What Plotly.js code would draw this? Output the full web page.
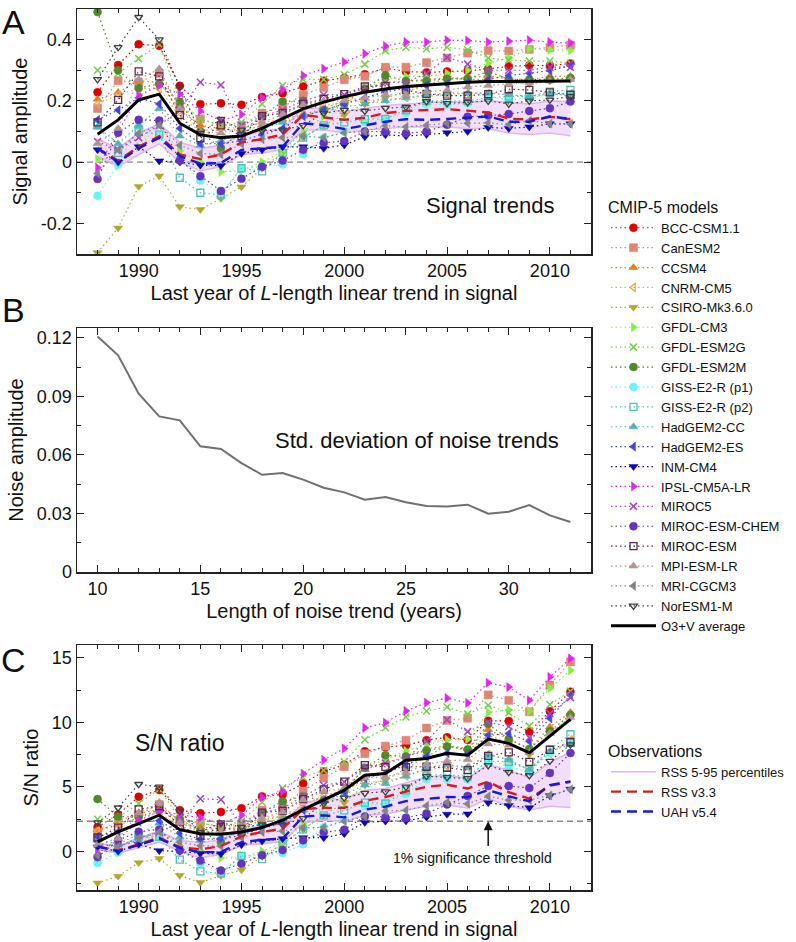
<!DOCTYPE html>
<html><head><meta charset="utf-8">
<script src="https://cdn.plot.ly/plotly-3.0.1.min.js"></script>
<style>html,body{margin:0;padding:0;background:#fff;}#chart{width:796px;height:942px;}</style>
</head><body><div id="chart"></div>
<script>
// ---------- data ----------
const years = [1988,1989,1990,1991,1992,1993,1994,1995,1996,1997,1998,1999,2000,2001,2002,2003,2004,2005,2006,2007,2008,2009,2010,2011];
const noiseLength = [10,11,12,13,14,15,16,17,18,19,20,21,22,23,24,25,26,27,28,29,30,31,32,33];
const noiseStd = [0.1207,0.111,0.0913,0.0797,0.0777,0.0644,0.063,0.0558,0.0498,0.0507,0.0473,0.0432,0.0408,0.037,0.0384,0.0357,0.0338,0.0335,0.0345,0.0299,0.0309,0.0343,0.029,0.0256];

const modelNames = ['BCC-CSM1.1','CanESM2','CCSM4','CNRM-CM5','CSIRO-Mk3.6.0','GFDL-CM3','GFDL-ESM2G','GFDL-ESM2M','GISS-E2-R (p1)','GISS-E2-R (p2)','HadGEM2-CC','HadGEM2-ES','INM-CM4','IPSL-CM5A-LR','MIROC5','MIROC-ESM-CHEM','MIROC-ESM','MPI-ESM-LR','MRI-CGCM3','NorESM1-M'];

// Panel A: signal trends
const sigBCC   = [0.228,0.317,0.385,0.38,0.249,0.189,0.192,0.187,0.213,0.225,0.247,0.266,0.275,0.287,0.307,0.296,0.293,0.296,0.298,0.304,0.313,0.316,0.315,0.322];
const sigCan   = [0.175,0.266,0.26,0.29,0.18,0.141,0.12,0.12,0.16,0.18,0.22,0.244,0.269,0.28,0.31,0.31,0.325,0.34,0.356,0.364,0.363,0.368,0.374,0.382];
const sigCCSM  = [0.205,0.228,0.266,0.26,0.17,0.12,0.11,0.10,0.12,0.14,0.155,0.175,0.20,0.235,0.26,0.265,0.27,0.275,0.275,0.283,0.27,0.27,0.28,0.28];
const sigCNRM  = [0.19,0.22,0.24,0.24,0.15,0.10,0.115,0.11,0.13,0.14,0.17,0.185,0.195,0.20,0.205,0.21,0.215,0.22,0.225,0.225,0.22,0.215,0.22,0.225];
const sigCSIRO = [-0.296,-0.215,-0.08,-0.045,-0.146,-0.155,-0.119,-0.081,-0.02,0.03,0.08,0.12,0.155,0.19,0.21,0.23,0.25,0.275,0.27,0.27,0.26,0.255,0.265,0.27];
const sigCM3   = [0.01,-0.01,0.05,0.12,0.036,0.0,-0.032,-0.028,0.0,0.035,0.10,0.15,0.20,0.24,0.27,0.28,0.28,0.29,0.30,0.323,0.34,0.37,0.367,0.365];
const sigESM2G = [0.30,0.29,0.338,0.385,0.20,0.14,0.12,0.13,0.19,0.25,0.27,0.27,0.285,0.32,0.364,0.375,0.37,0.375,0.367,0.34,0.333,0.33,0.33,0.323];
const sigESM2M = [0.49,0.30,0.242,0.255,0.196,0.10,0.045,0.10,0.15,0.198,0.20,0.17,0.19,0.24,0.283,0.265,0.266,0.272,0.272,0.296,0.27,0.27,0.27,0.275];
const sigGISS1 = [-0.11,-0.008,0.116,0.085,0.01,-0.06,-0.10,-0.02,-0.015,-0.007,0.026,0.08,0.10,0.13,0.14,0.16,0.19,0.187,0.192,0.214,0.203,0.209,0.222,0.22];
const sigGISS2 = [0.12,0.03,0.10,0.09,-0.051,-0.10,-0.108,-0.02,-0.03,0.03,0.08,0.12,0.13,0.14,0.141,0.17,0.20,0.20,0.20,0.21,0.215,0.215,0.23,0.236];
const sigHadCC = [0.115,0.06,0.12,0.175,0.085,0.055,0.07,0.09,0.11,0.13,0.15,0.17,0.18,0.19,0.20,0.21,0.22,0.225,0.225,0.225,0.22,0.215,0.225,0.215];
const sigHadES = [0.138,0.17,0.21,0.19,0.11,0.06,0.06,0.07,0.09,0.11,0.15,0.17,0.19,0.21,0.23,0.24,0.25,0.255,0.26,0.27,0.283,0.29,0.299,0.315];
const sigINM   = [0.04,0.0,0.05,0.004,0.0,-0.01,-0.012,0.028,0.04,0.05,0.05,0.045,0.056,0.083,0.089,0.085,0.09,0.096,0.10,0.113,0.11,0.115,0.125,0.125];
const sigIPSL  = [-0.018,0.10,0.217,0.25,0.222,0.167,0.135,0.156,0.21,0.236,0.283,0.305,0.327,0.354,0.379,0.392,0.392,0.398,0.397,0.392,0.395,0.398,0.392,0.389];
const sigMIROC5= [0.067,0.04,0.08,0.12,0.17,0.261,0.252,0.12,0.15,0.17,0.20,0.22,0.22,0.24,0.26,0.26,0.29,0.342,0.32,0.30,0.30,0.30,0.31,0.31];
const sigMChem = [-0.055,0.096,0.138,0.136,0.005,-0.046,-0.094,-0.054,-0.015,0.005,0.04,0.063,0.069,0.10,0.10,0.094,0.10,0.122,0.148,0.152,0.157,0.167,0.176,0.198];
const sigMESM  = [0.13,0.203,0.296,0.28,0.154,0.078,0.12,0.085,0.15,0.16,0.19,0.207,0.222,0.247,0.249,0.235,0.223,0.217,0.217,0.222,0.238,0.236,0.228,0.22];
const sigMPI   = [0.06,0.11,0.27,0.305,0.175,0.10,0.095,0.11,0.13,0.155,0.187,0.20,0.20,0.21,0.22,0.22,0.23,0.235,0.245,0.25,0.255,0.26,0.265,0.27];
const sigMRI   = [-0.037,0.04,0.094,0.121,0.055,0.028,0.025,0.06,0.075,0.08,0.085,0.08,0.096,0.10,0.119,0.115,0.12,0.127,0.127,0.128,0.123,0.135,0.126,0.125];
const sigNor   = [0.27,0.375,0.473,0.40,0.245,0.095,0.14,0.105,0.103,0.105,0.12,0.16,0.17,0.167,0.176,0.18,0.198,0.192,0.195,0.20,0.19,0.20,0.203,0.215];
const sigAvg   = [0.091,0.138,0.203,0.222,0.127,0.089,0.080,0.085,0.110,0.143,0.174,0.196,0.214,0.228,0.239,0.247,0.252,0.258,0.261,0.263,0.263,0.263,0.264,0.265];
const sigRSS   = [0.045,0.005,0.05,0.085,0.025,0.01,0.025,0.065,0.075,0.09,0.154,0.145,0.138,0.145,0.16,0.167,0.17,0.173,0.168,0.162,0.142,0.139,0.148,0.14];
const sigUAH   = [0.045,0.0,0.045,0.08,0.02,-0.005,-0.003,0.04,0.045,0.05,0.127,0.12,0.108,0.12,0.132,0.14,0.138,0.141,0.145,0.149,0.132,0.132,0.149,0.141];
const sigRSSlo = [0.02,-0.015,0.025,0.06,0.0,-0.028,-0.015,0.025,0.03,0.04,0.105,0.105,0.095,0.105,0.11,0.115,0.115,0.115,0.11,0.11,0.095,0.09,0.095,0.086];
const sigRSShi = [0.075,0.045,0.095,0.125,0.065,0.045,0.055,0.09,0.10,0.11,0.175,0.175,0.165,0.175,0.185,0.19,0.195,0.198,0.195,0.20,0.195,0.19,0.20,0.198];

// Panel C: S/N ratio
const snrBCC   = [1.88,2.86,4.23,4.75,3.19,2.95,3.05,3.34,4.26,4.41,5.26,6.19,6.71,7.76,8.08,8.22,8.62,8.84,8.64,10.13,10.10,9.29,10.86,12.38];
const snrCan   = [1.45,2.40,2.86,3.63,2.31,2.20,1.90,2.14,3.2,3.53,4.68,5.68,6.56,7.57,8.16,8.61,9.56,10.15,10.32,12.13,11.71,10.82,12.9,14.69];
const snrCCSM  = [1.69,2.05,2.92,3.25,2.18,1.88,1.75,1.79,2.4,2.75,3.3,4.07,4.88,6.35,6.84,7.36,7.94,8.21,7.97,9.43,8.71,7.94,9.65,10.77];
const snrCNRM  = [1.57,1.98,2.64,3.0,1.92,1.56,1.83,1.96,2.6,2.75,3.62,4.3,4.76,5.41,5.4,5.83,6.32,6.57,6.52,7.5,7.1,6.32,7.59,8.65];
const snrCSIRO = [-2.45,-1.94,-0.88,-0.56,-1.87,-2.42,-1.89,-1.45,-0.4,0.59,1.7,2.79,3.78,5.14,5.53,6.39,7.35,8.21,7.83,9.0,8.39,7.5,9.14,10.38];
const snrCM3   = [0.08,-0.09,0.55,1.5,0.46,0.0,-0.51,-0.5,0.0,0.69,2.13,3.49,4.88,6.49,7.11,7.78,8.24,8.66,8.7,10.77,10.97,10.88,12.65,14.04];
const snrESM2G = [2.48,2.61,3.71,4.81,2.56,2.19,1.9,2.32,3.8,4.9,5.75,6.28,6.95,8.65,9.58,10.42,10.88,11.19,10.64,11.33,10.74,9.71,11.38,12.42];
const snrESM2M = [4.05,2.7,2.66,3.19,2.51,1.56,0.71,1.79,3.0,3.88,4.26,3.95,4.63,6.49,7.45,7.36,7.82,8.12,7.89,9.87,8.71,7.94,9.31,10.58];
const snrGISS1 = [-0.91,-0.07,1.27,1.06,0.13,-0.94,-1.59,-0.36,-0.3,-0.14,0.55,1.86,2.44,3.51,3.68,4.44,5.59,5.58,5.57,7.13,6.55,6.15,7.65,8.46];
const snrGISS2 = [0.99,0.27,1.1,1.13,-0.65,-1.56,-1.71,-0.36,-0.6,0.59,1.7,2.79,3.17,3.78,3.71,4.72,5.88,5.97,5.8,7.0,6.94,6.32,7.93,9.08];
const snrHadCC = [0.95,0.54,1.32,2.19,1.09,0.86,1.11,1.61,2.2,2.55,3.19,3.95,4.39,5.14,5.26,5.83,6.47,6.72,6.52,7.5,7.1,6.32,7.76,8.27];
const snrHadES = [1.14,1.53,2.31,2.38,1.41,0.94,0.95,1.25,1.8,2.16,3.19,3.95,4.63,5.68,6.05,6.67,7.35,7.61,7.54,9.0,9.13,8.53,10.31,12.11];
const snrINM   = [0.33,0.0,0.55,0.05,0.0,-0.16,-0.19,0.5,0.8,0.98,1.06,1.05,1.37,2.24,2.34,2.36,2.65,2.87,2.9,3.77,3.55,3.38,4.31,4.81];
const snrIPSL  = [-0.15,0.9,2.38,3.13,2.85,2.61,2.14,2.79,4.2,4.63,6.02,7.09,7.98,9.57,9.98,10.89,11.53,11.88,11.51,13.07,12.74,11.71,13.52,14.96];
const snrMIROC5= [0.55,0.36,0.88,1.5,2.18,4.08,4.0,2.14,3.0,3.33,4.26,5.12,5.37,6.49,6.84,7.22,8.53,10.21,9.28,10.0,9.68,8.82,10.69,11.92];
const snrMChem = [-0.45,0.86,1.52,1.7,0.06,-0.72,-1.49,-0.96,-0.3,0.1,0.85,1.47,1.68,2.7,2.63,2.61,2.94,3.64,4.29,5.07,5.06,4.91,6.07,7.62];
const snrMESM  = [1.07,1.83,3.25,3.5,1.97,1.22,1.9,1.52,3.0,3.14,4.04,4.81,5.41,6.68,6.55,6.53,6.56,6.48,6.29,7.4,7.68,6.94,7.86,8.46];
const snrMPI   = [0.5,0.99,2.97,3.81,2.24,1.56,1.51,1.96,2.6,3.04,3.98,4.65,4.88,5.68,5.79,6.11,6.76,7.01,7.1,8.33,8.23,7.65,9.14,10.38];
const snrMRI   = [-0.31,0.36,1.03,1.51,0.71,0.44,0.4,1.07,1.5,1.57,1.81,1.86,2.34,2.7,3.13,3.19,3.53,3.79,3.68,4.27,3.97,3.97,4.34,4.81];
const snrNor   = [2.23,3.38,5.2,5.0,3.14,1.48,2.22,1.88,2.06,2.06,2.55,3.72,4.15,4.51,4.63,5.0,5.82,5.73,5.65,6.67,6.13,5.88,7.0,8.27];
const snrAvg   = [0.73,1.5,2.15,2.8,1.68,1.37,1.32,1.5,1.84,2.41,3.24,3.96,4.74,5.9,6.04,7.07,7.2,7.6,7.46,8.7,8.37,7.64,8.9,10.23];
const snrRSS   = [0.38,0.05,0.55,1.06,0.32,0.16,0.4,1.16,1.5,1.76,3.28,3.37,3.37,3.92,4.21,4.64,5.0,5.16,4.87,5.4,4.58,4.09,5.1,5.38];
const snrUAH   = [0.37,0.0,0.49,1.0,0.26,-0.08,-0.05,0.71,0.9,0.98,2.7,2.79,2.63,3.24,3.47,3.89,4.06,4.21,4.2,4.75,4.26,3.88,5.14,5.42];
const snrRSSlo = [0.17,-0.14,0.27,0.73,0.0,-0.5,-0.24,0.45,0.6,0.75,2.2,2.44,2.32,2.8,2.9,3.2,3.5,3.6,3.35,4.1,3.5,3.2,3.5,3.4];
const snrRSShi = [0.62,0.41,1.04,1.56,0.83,0.7,0.87,1.61,2.0,2.16,3.72,4.07,4.02,4.73,4.87,5.28,5.74,5.91,5.65,6.75,6.29,5.7,6.9,7.7];

const threshold = 2.33;
const yTicksA = [-0.2,0,0.2,0.4];
const yTickTextA = ['-0.2','0','0.2','0.4'];

const sigSeries = [sigBCC,sigCan,sigCCSM,sigCNRM,sigCSIRO,sigCM3,sigESM2G,sigESM2M,sigGISS1,sigGISS2,sigHadCC,sigHadES,sigINM,sigIPSL,sigMIROC5,sigMChem,sigMESM,sigMPI,sigMRI,sigNor];
const snrSeries = [snrBCC,snrCan,snrCCSM,snrCNRM,snrCSIRO,snrCM3,snrESM2G,snrESM2M,snrGISS1,snrGISS2,snrHadCC,snrHadES,snrINM,snrIPSL,snrMIROC5,snrMChem,snrMESM,snrMPI,snrMRI,snrNor];

// ---------- styles ----------
const modelColors = ['#e00000','#e08474','#e08020','#f0a850','#b4a82c','#84f040','#74d048','#4f8a2c','#6cf4f4','#4cc4b4','#50b4b4','#4444e4','#0808b8','#e424f0','#a444c8','#6434c0','#602848','#b49494','#848484','#404040'];
const modelSymbols = ['circle','square','triangle-up','triangle-left-open','triangle-down','triangle-right','x-thin-open','circle','circle','square-open','triangle-up','triangle-left','triangle-down','triangle-right','x-thin-open','circle','square-open','triangle-up','triangle-left','triangle-down-open'];
const FONT = 'Liberation Sans, Arial, Helvetica, sans-serif';

const traces = [];
function band(lo, hi, xa, ya, showleg) {
  traces.push({x: years, y: lo, xaxis: xa, yaxis: ya, mode: 'lines', name: 'RSS 5-95 percentiles',
    line: {color: '#e4b4f2', width: 1.6}, legend: 'legend2', showlegend: showleg, hoverinfo: 'skip'});
  traces.push({x: years, y: hi, xaxis: xa, yaxis: ya, mode: 'lines', name: 'RSS 5-95 upper',
    line: {color: '#e4b4f2', width: 1.6}, fill: 'tonexty', fillcolor: 'rgba(226,176,242,0.42)',
    legend: 'legend2', showlegend: false, hoverinfo: 'skip'});
}
function models(series, xa, ya, showleg) {
  for (let i = 0; i < series.length; i++) {
    const sym = modelSymbols[i];
    const thin = sym.indexOf('x-thin') === 0;
    const open = sym.indexOf('open') > 0;
    traces.push({x: years, y: series[i], xaxis: xa, yaxis: ya, mode: 'lines+markers', name: modelNames[i],
      line: {color: modelColors[i], width: 1.2, dash: '1.5px,3px'},
      marker: {symbol: sym, size: thin ? 7 : (open ? 7 : 8), color: modelColors[i],
        line: {color: modelColors[i], width: thin ? 1.5 : (open ? 1.3 : 0.5)}},
      legend: 'legend', showlegend: showleg});
  }
}
function obs(rss, uah, avg, xa, ya, showleg) {
  traces.push({x: years, y: rss, xaxis: xa, yaxis: ya, mode: 'lines', name: 'RSS v3.3',
    line: {color: '#e01818', width: 2.4, dash: '10px,6px'}, legend: 'legend2', showlegend: showleg});
  traces.push({x: years, y: uah, xaxis: xa, yaxis: ya, mode: 'lines', name: 'UAH v5.4',
    line: {color: '#1818e0', width: 2.4, dash: '10px,6px'}, legend: 'legend2', showlegend: showleg});
  traces.push({x: years, y: avg, xaxis: xa, yaxis: ya, mode: 'lines', name: 'O3+V average',
    line: {color: '#000000', width: 3}, legend: 'legend', showlegend: showleg});
}
band(sigRSSlo, sigRSShi, 'x', 'y', true);
models(sigSeries, 'x', 'y', true);
obs(sigRSS, sigUAH, sigAvg, 'x', 'y', true);
traces.push({x: noiseLength, y: noiseStd, xaxis: 'x2', yaxis: 'y2', mode: 'lines', name: 'Noise',
  line: {color: '#707070', width: 2}, showlegend: false});
band(snrRSSlo, snrRSShi, 'x3', 'y3', false);
models(snrSeries, 'x3', 'y3', false);
obs(snrRSS, snrUAH, snrAvg, 'x3', 'y3', false);

// ---------- layout ----------
const W = 796, H = 942;
const xDom = [77 / W, 591 / W];
const dom = (top, bottom) => [1 - bottom / H, 1 - top / H];
const common = {showline: true, linecolor: '#222', linewidth: 1.5, mirror: 'ticks', ticks: 'inside', ticklen: 7,
  tickwidth: 1, tickcolor: '#222', showgrid: false, zeroline: false, automargin: false,
  tickfont: {size: 18, family: FONT, color: '#111'}};
const minorX = {ticks: 'inside', ticklen: 4, tickcolor: '#222', dtick: 1};
const titleFont = {size: 20, family: FONT, color: '#111'};
const xTitleSignal = 'Last year of <i>L</i>-length linear trend in signal';
const letterFont = {size: 34, family: FONT, color: '#111'};

const layout = {
  width: W, height: H, margin: {l: 0, r: 0, t: 0, b: 0},
  paper_bgcolor: '#fff', plot_bgcolor: '#fff',
  font: {family: FONT, color: '#111'},
  xaxis: Object.assign({}, common, {domain: xDom, anchor: 'y', range: [1987, 2012], tickmode: 'linear', tick0: 1990, dtick: 5,
    minor: minorX, title: {text: xTitleSignal, font: titleFont, standoff: 6}}),
  yaxis: Object.assign({}, common, {domain: dom(9, 254), anchor: 'x', range: [-0.3, 0.5], tickmode: 'array',
    tickvals: yTicksA, ticktext: yTickTextA,
    minor: {ticks: 'inside', ticklen: 4, tickcolor: '#222', tickmode: 'array', tickvals: [-0.1, 0.1, 0.3]},
    title: {text: 'Signal amplitude', font: titleFont, standoff: 8}}),
  xaxis2: Object.assign({}, common, {domain: xDom, anchor: 'y2', range: [9, 34], tickmode: 'linear', tick0: 10, dtick: 5,
    minor: minorX, title: {text: 'Length of noise trend (years)', font: titleFont, standoff: 6}}),
  yaxis2: Object.assign({}, common, {domain: dom(328, 572), anchor: 'x2', range: [0, 0.125], tickmode: 'linear', tick0: 0, dtick: 0.03,
    minor: {ticks: 'inside', ticklen: 4, tickcolor: '#222', dtick: 0.015},
    title: {text: 'Noise amplitude', font: titleFont, standoff: 8}}),
  xaxis3: Object.assign({}, common, {domain: xDom, anchor: 'y3', range: [1987, 2012], tickmode: 'linear', tick0: 1990, dtick: 5,
    minor: minorX, title: {text: xTitleSignal, font: titleFont, standoff: 6}}),
  yaxis3: Object.assign({}, common, {domain: dom(645, 890), anchor: 'x3', range: [-3, 16], tickmode: 'linear', tick0: 0, dtick: 5,
    minor: {ticks: 'inside', ticklen: 4, tickcolor: '#222', dtick: 2.5},
    title: {text: 'S/N ratio', font: titleFont, standoff: 8}}),
  shapes: [
    {type: 'line', xref: 'x domain', yref: 'y', x0: 0, x1: 1, y0: 0, y1: 0, line: {color: '#888', width: 1.3, dash: '6px,4px'}, layer: 'below'},
    {type: 'line', xref: 'x3 domain', yref: 'y3', x0: 0, x1: 1, y0: threshold, y1: threshold, line: {color: '#888', width: 1.3, dash: '6px,4px'}, layer: 'below'}
  ],
  annotations: [
    {text: 'A', xref: 'paper', yref: 'paper', x: 13 / W, y: 1 - 22 / H, xanchor: 'center', yanchor: 'middle', showarrow: false, font: letterFont},
    {text: 'B', xref: 'paper', yref: 'paper', x: 13 / W, y: 1 - 310 / H, xanchor: 'center', yanchor: 'middle', showarrow: false, font: letterFont},
    {text: 'C', xref: 'paper', yref: 'paper', x: 13 / W, y: 1 - 660 / H, xanchor: 'center', yanchor: 'middle', showarrow: false, font: letterFont},
    {text: 'Signal trends', xref: 'x', yref: 'y', x: 2007.1, y: -0.141, showarrow: false, font: {size: 22, family: FONT, color: '#111'}},
    {text: 'Std. deviation of noise trends', xref: 'x2', yref: 'y2', x: 25.56, y: 0.0676, showarrow: false, font: {size: 22, family: FONT, color: '#111'}},
    {text: 'S/N ratio', xref: 'x3', yref: 'y3', x: 1992.0, y: 8.4, showarrow: false, font: {size: 23, family: FONT, color: '#111'}},
    {text: '1% significance threshold', xref: 'x3', yref: 'y3', x: 2006.26, y: -0.54, showarrow: false, font: {size: 14, family: FONT, color: '#111'}},
    {text: '', xref: 'x3', yref: 'y3', x: 2007, y: threshold, axref: 'x3', ayref: 'y3', ax: 2007, ay: 0.3,
      showarrow: true, arrowhead: 2, arrowsize: 1.2, arrowwidth: 1.5, arrowcolor: '#111', standoff: 0}
  ],
  legend: {x: 606 / W, xanchor: 'left', y: 1 - 192 / H, yanchor: 'top', itemwidth: 45, traceorder: 'normal', bgcolor: 'rgba(0,0,0,0)',
    font: {size: 13, family: FONT, color: '#111'}, title: {text: 'CMIP-5 models', font: {size: 16, family: FONT, color: '#111'}}},
  legend2: {x: 606 / W, xanchor: 'left', y: 1 - 736 / H, yanchor: 'top', itemwidth: 45, traceorder: 'normal', bgcolor: 'rgba(0,0,0,0)',
    font: {size: 13, family: FONT, color: '#111'}, title: {text: 'Observations', font: {size: 16, family: FONT, color: '#111'}}}
};
Plotly.newPlot('chart', traces, layout, {displayModeBar: false, staticPlot: true});
</script>
</body></html>
